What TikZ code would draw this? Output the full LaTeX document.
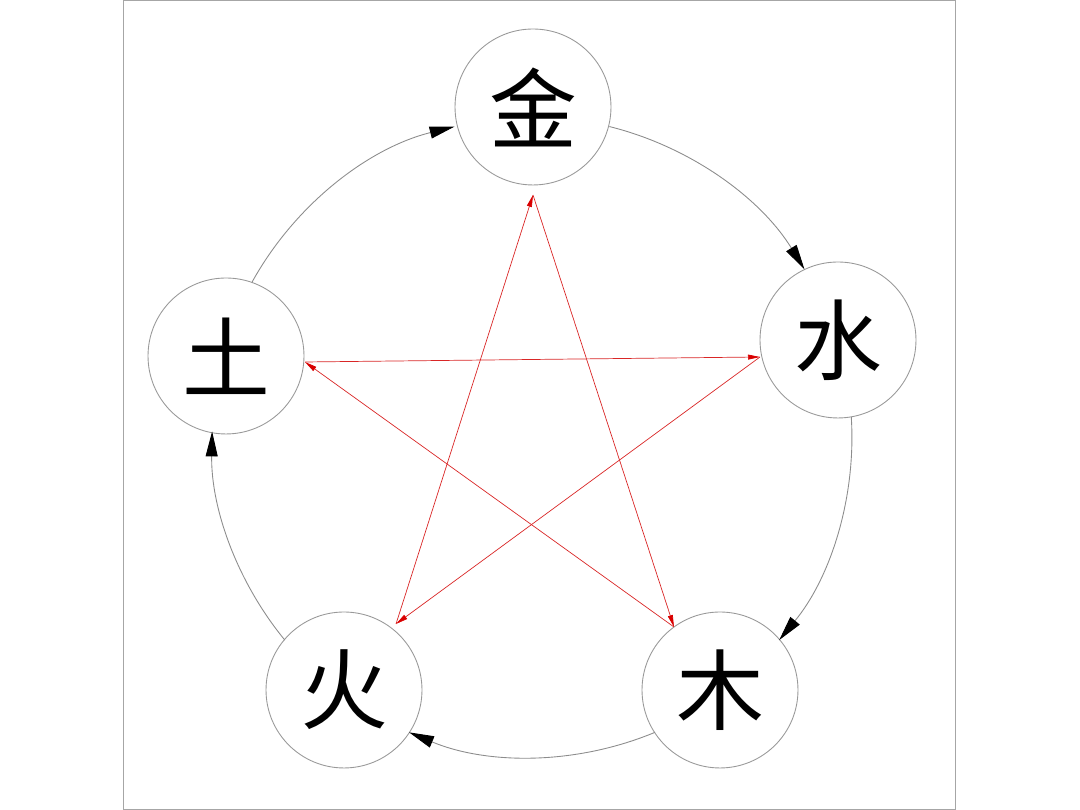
\documentclass[tikz,border=0pt]{standalone}
\usepackage{fontspec}
\newfontfamily\cjk{Noto Sans CJK SC}
\usetikzlibrary{arrows.meta}
\begin{document}
\begin{tikzpicture}[x=0.02cm,y=0.02cm,
  elem/.style={circle,draw=gray!80,line width=0.5pt,minimum size=3.12cm,inner sep=0pt,font=\cjk\fontsize{50}{50}\selectfont},
  outer/.style={draw=gray!90,line width=0.5pt,-{Triangle[length=0.5cm,width=0.24cm,black]}},
  inner/.style={draw=red!70!gray,line width=0.4pt,-{Triangle[length=0.24cm,width=0.1cm,red!85!black]}}]
\useasboundingbox (0,0) rectangle (1080,810);
\draw[gray!70,line width=0.5pt] (123,1) rectangle (955,810);
\coordinate (c) at (532,373);
\node[elem] (jin) at (533,703) {金};
\node[elem] (shui) at (838,470) {水};
\node[elem] (mu) at (720,120) {木};
\node[elem] (huo) at (344,120) {火};
\node[elem] (tu) at (226,454) {土};
\coordinate (pj) at (533,615);
\coordinate (ps) at (760,453);
\coordinate (pt) at (305,448);
\coordinate (ph) at (396,186);
\coordinate (pm) at (674,183);
\draw[outer] (c) ++(151:6.4cm) arc[start angle=151,end angle=104,radius=6.4cm];
\draw[outer] (c) ++(76:6.4cm) arc[start angle=76,end angle=31.6,radius=6.4cm];
\draw[outer] (c) ++(3.6:6.4cm) arc[start angle=3.6,end angle=-39.4,radius=6.4cm];
\draw[outer] (c) ++(-67.4:6.4cm) arc[start angle=-67.4,end angle=-112.6,radius=6.4cm];
\draw[outer] (c) ++(-140.6:6.4cm) arc[start angle=-140.6,end angle=-181,radius=6.4cm];
\draw[inner] (pj) -- (pm);
\draw[inner] (pm) -- (pt);
\draw[inner] (pt) -- (ps);
\draw[inner] (ps) -- (ph);
\draw[inner] (ph) -- (pj);
\end{tikzpicture}
\end{document}
